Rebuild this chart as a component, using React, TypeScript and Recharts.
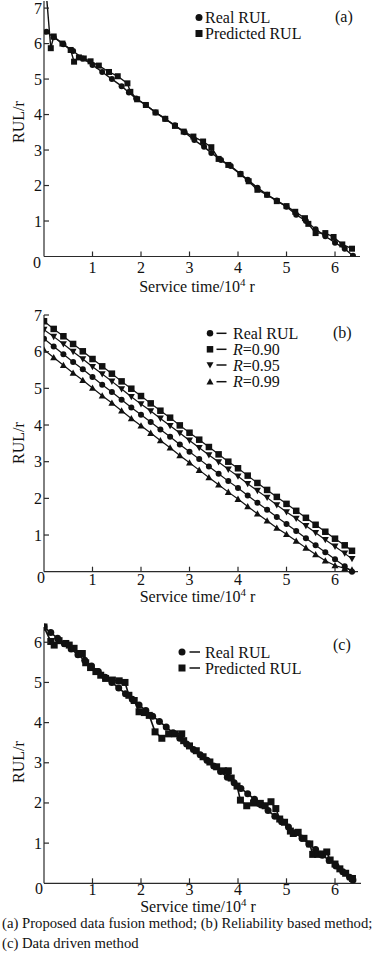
import React from 'react';
import { LineChart, Line, XAxis, YAxis, Legend } from 'recharts';

const FONT = '"Liberation Serif", "Times New Roman", Times, serif';
const INK = '#111';
const AXIS = '#2a2a2a';

// ---------- shared ticks ----------
const xTicks = [1, 2, 3, 4, 5, 6];
const yTicksAB = [0, 1, 2, 3, 4, 5, 6, 7];
const yTicksC = [0, 1, 2, 3, 4, 5, 6];

// ---------- panel (a): proposed data fusion method ----------
const aRealX = [0.05, 0.2, 0.4, 0.6, 0.8, 1.0, 1.2, 1.4, 1.6, 1.75, 1.9, 2.1, 2.3, 2.5, 2.7, 2.9, 3.1, 3.3, 3.45, 3.65, 3.85, 4.05, 4.2, 4.4, 4.6, 4.8, 5.0, 5.2, 5.4, 5.6, 5.8, 6.0, 6.2, 6.37];
const aRealY = [6.33, 6.18, 5.98, 5.79, 5.58, 5.40, 5.20, 5.00, 4.80, 4.62, 4.45, 4.27, 4.06, 3.88, 3.70, 3.50, 3.28, 3.09, 2.92, 2.72, 2.55, 2.33, 2.16, 1.94, 1.74, 1.58, 1.40, 1.18, 1.00, 0.77, 0.57, 0.39, 0.22, 0.02];
const aPredX = [0.06, 0.14, 0.2, 0.38, 0.55, 0.62, 0.72, 0.82, 0.96, 1.13, 1.34, 1.52, 1.72, 1.78, 1.92, 2.1, 2.3, 2.5, 2.7, 2.88, 3.08, 3.28, 3.45, 3.6, 3.8, 4.05, 4.22, 4.4, 4.6, 4.8, 5.0, 5.18, 5.38, 5.45, 5.6, 5.8, 5.97, 6.15, 6.35];
const aPredY = [7.2, 5.87, 6.2, 6.0, 5.82, 5.49, 5.61, 5.58, 5.5, 5.38, 5.2, 5.08, 4.88, 4.64, 4.43, 4.27, 4.06, 3.88, 3.68, 3.52, 3.38, 3.24, 3.08, 2.75, 2.58, 2.32, 2.12, 1.88, 1.74, 1.56, 1.42, 1.26, 1.08, 0.92, 0.66, 0.66, 0.55, 0.34, 0.22];

// ---------- panel (b): reliability based method ----------
const bX = [0.0, 0.2, 0.4, 0.6, 0.8, 1.0, 1.2, 1.4, 1.6, 1.8, 2.0, 2.2, 2.4, 2.6, 2.8, 3.0, 3.2, 3.4, 3.6, 3.8, 4.0, 4.2, 4.4, 4.6, 4.8, 5.0, 5.2, 5.4, 5.6, 5.8, 6.0, 6.2, 6.35];
const bReal = [6.35, 6.14, 5.93, 5.72, 5.52, 5.31, 5.10, 4.90, 4.69, 4.48, 4.28, 4.08, 3.88, 3.68, 3.47, 3.27, 3.07, 2.87, 2.67, 2.47, 2.28, 2.08, 1.88, 1.69, 1.49, 1.30, 1.11, 0.91, 0.72, 0.53, 0.34, 0.15, 0.00];
const bR90 = [6.83, 6.62, 6.42, 6.21, 6.01, 5.80, 5.60, 5.40, 5.19, 4.99, 4.79, 4.59, 4.39, 4.20, 3.99, 3.79, 3.60, 3.40, 3.20, 3.00, 2.82, 2.62, 2.42, 2.23, 2.04, 1.85, 1.66, 1.47, 1.28, 1.09, 0.90, 0.72, 0.57];
const bR95 = [6.60, 6.41, 6.21, 6.00, 5.80, 5.59, 5.39, 5.19, 4.98, 4.77, 4.57, 4.38, 4.18, 3.98, 3.78, 3.58, 3.38, 3.18, 2.99, 2.79, 2.60, 2.40, 2.21, 2.02, 1.82, 1.63, 1.45, 1.25, 1.06, 0.87, 0.69, 0.50, 0.35];
const bR99 = [6.05, 5.84, 5.63, 5.42, 5.22, 5.01, 4.80, 4.60, 4.39, 4.18, 3.98, 3.78, 3.58, 3.38, 3.17, 2.97, 2.77, 2.57, 2.37, 2.17, 1.98, 1.78, 1.58, 1.39, 1.19, 1.02, 0.84, 0.65, 0.47, 0.30, 0.17, 0.09, 0.05];

// ---------- panel (c): data driven method ----------
const cRealX = [0.0, 0.14, 0.28, 0.42, 0.56, 0.70, 0.84, 0.98, 1.12, 1.26, 1.40, 1.54, 1.68, 1.82, 1.96, 2.10, 2.24, 2.38, 2.52, 2.66, 2.80, 2.94, 3.08, 3.22, 3.36, 3.50, 3.64, 3.78, 3.92, 4.06, 4.20, 4.34, 4.48, 4.62, 4.76, 4.90, 5.04, 5.18, 5.32, 5.46, 5.60, 5.74, 5.88, 6.02, 6.16, 6.30, 6.37];
const cRealY = [6.38, 6.24, 6.10, 5.96, 5.83, 5.69, 5.55, 5.41, 5.27, 5.13, 5.00, 4.86, 4.72, 4.58, 4.44, 4.30, 4.16, 4.03, 3.89, 3.75, 3.61, 3.47, 3.33, 3.20, 3.06, 2.92, 2.78, 2.64, 2.50, 2.36, 2.23, 2.09, 1.95, 1.81, 1.67, 1.53, 1.40, 1.26, 1.12, 0.98, 0.84, 0.70, 0.57, 0.43, 0.29, 0.15, 0.08];
const cPredX = [0.0, 0.14, 0.21, 0.31, 0.45, 0.52, 0.62, 0.72, 0.79, 0.86, 0.96, 1.07, 1.17, 1.27, 1.41, 1.55, 1.67, 1.75, 1.86, 1.96, 2.07, 2.17, 2.29, 2.43, 2.57, 2.7, 2.84, 2.88, 3.0, 3.14, 3.28, 3.42, 3.56, 3.7, 3.8, 3.86, 3.98, 4.05, 4.18, 4.32, 4.46, 4.56, 4.68, 4.78, 4.86, 4.96, 5.08, 5.14, 5.24, 5.36, 5.48, 5.54, 5.64, 5.74, 5.83, 5.9, 6.0, 6.1, 6.22, 6.36];
const cPredY = [6.38, 6.02, 5.93, 6.04, 5.97, 5.93, 5.85, 5.72, 5.72, 5.49, 5.37, 5.27, 5.18, 5.1, 5.06, 5.04, 5.0, 4.68, 4.55, 4.27, 4.25, 4.18, 3.77, 3.61, 3.72, 3.72, 3.72, 3.55, 3.42, 3.3, 3.15, 3.02, 2.9, 2.8, 2.8, 2.62, 2.42, 2.07, 1.93, 2.0, 1.99, 1.93, 2.03, 1.86, 1.6, 1.52, 1.3, 1.24, 1.27, 1.12, 0.98, 0.72, 0.72, 0.73, 0.78, 0.58, 0.48, 0.36, 0.25, 0.12];

// ---------- helpers ----------
type Pt = { x: number; y: number };
const zip = (xs: number[], ys: number[]): Pt[] => xs.map((x, i) => ({ x, y: ys[i] }));

type Kind = 'circle' | 'square' | 'down' | 'up';

function markerEl(kind: Kind, cx: number, cy: number, s: number, key?: string) {
  const h = s / 2;
  if (kind === 'circle') return <circle key={key} cx={cx} cy={cy} r={h} fill={INK} />;
  if (kind === 'square') return <rect key={key} x={cx - h} y={cy - h} width={s} height={s} fill={INK} />;
  if (kind === 'down')
    return <polygon key={key} points={`${cx - h},${cy - h * 0.8} ${cx + h},${cy - h * 0.8} ${cx},${cy + h}`} fill={INK} />;
  return <polygon key={key} points={`${cx - h},${cy + h * 0.8} ${cx + h},${cy + h * 0.8} ${cx},${cy - h}`} fill={INK} />;
}

const dotRenderer = (kind: Kind, s: number, skipAbove: number) => (props: any) => {
  const { cx, cy, index, payload } = props;
  const key = `d-${index}`;
  if (cx == null || cy == null || (payload && payload.y >= skipAbove)) return <g key={key} />;
  return markerEl(kind, cx, cy, s, key);
};

interface SeriesDef { name: string; data: Pt[]; kind: Kind; size: number; width: number; skipAbove?: number }
interface LegendRow { label: React.ReactNode; kind: Kind; size: number; cy: number }

interface PanelProps {
  top: number; height: number; marginTop: number; plotBottom: number; plotRight: number;
  xMax: number; yMax: number; yTicks: number[]; overflow: boolean;
  series: SeriesDef[];
  rows: LegendRow[]; markerX: number; dash: [number, number] | null; textX: number;
  tag: string; tagX: number; tagY: number;
  xLabelDy: number; titleX: number; titleY: number; yTitleY: number;
  zeroDx: number; zeroDy: number;
}

function Panel(p: PanelProps) {
  const xAxisHeight = p.height - p.plotBottom;
  const xTick = (props: any) => {
    const { x, y, payload } = props;
    return (
      <g>
        <line x1={x} y1={y} x2={x} y2={y - 5} stroke={AXIS} strokeWidth={1.2} />
        <text x={x} y={y + p.xLabelDy} textAnchor="middle" fontFamily={FONT} fontSize={16} fill={INK}>
          {payload.value}
        </text>
      </g>
    );
  };
  const yTick = (props: any) => {
    const { x, y, payload } = props;
    if (payload.value === 0) {
      return (
        <text x={x + p.zeroDx} y={y + p.zeroDy} textAnchor="end" fontFamily={FONT} fontSize={16} fill={INK}>
          0
        </text>
      );
    }
    return (
      <g>
        <line x1={x} y1={y} x2={x + 5} y2={y} stroke={AXIS} strokeWidth={1.2} />
        <text x={x - 2} y={y + 5.5} textAnchor="end" fontFamily={FONT} fontSize={16} fill={INK}>
          {payload.value}
        </text>
      </g>
    );
  };
  const xTitle = () => (
    <text x={p.titleX} y={p.titleY} textAnchor="middle" fontFamily={FONT} fontSize={16} fill={INK}>
      Service time/10<tspan dy={-6} fontSize={11}>4</tspan><tspan dy={6}> r</tspan>
    </text>
  );
  const yTitle = () => (
    <text
      x={24}
      y={p.yTitleY}
      transform={`rotate(-90, 24, ${p.yTitleY})`}
      textAnchor="middle"
      fontFamily={FONT}
      fontSize={16}
      fill={INK}
    >
      RUL/r
    </text>
  );
  const legendContent = () => (
    <svg width={376} height={p.height} style={{ overflow: 'visible' }}>
      {p.rows.map((r, i) => (
        <g key={i}>
          {markerEl(r.kind, p.markerX, r.cy, r.size)}
          {p.dash && <line x1={p.dash[0]} y1={r.cy} x2={p.dash[1]} y2={r.cy} stroke={INK} strokeWidth={1.5} />}
          <text x={p.textX} y={r.cy + 5.5} fontFamily={FONT} fontSize={16} fill={INK}>
            {r.label}
          </text>
        </g>
      ))}
      <text x={p.tagX} y={p.tagY} fontFamily={FONT} fontSize={16} fill={INK}>
        {p.tag}
      </text>
    </svg>
  );
  return (
    <div style={{ position: 'absolute', left: 0, top: p.top, width: 376, height: p.height }}>
      <LineChart
        width={376}
        height={p.height}
        margin={{ top: p.marginTop, right: 376 - p.plotRight, left: 0, bottom: 0 }}
      >
        <XAxis
          xAxisId="b"
          type="number"
          dataKey="x"
          domain={[0, p.xMax]}
          ticks={xTicks}
          interval={0}
          height={xAxisHeight}
          tickSize={0}
          tickMargin={0}
          tickLine={false}
          axisLine={{ stroke: AXIS, strokeWidth: 1.2 }}
          tick={xTick}
          label={xTitle}
          allowDataOverflow
        />
        <XAxis
          xAxisId="t"
          orientation="top"
          type="number"
          domain={[0, p.xMax]}
          height={0}
          tick={false}
          tickLine={false}
          axisLine={{ stroke: AXIS, strokeWidth: 1.2 }}
          allowDataOverflow
        />
        <YAxis
          yAxisId="l"
          type="number"
          domain={[0, p.yMax]}
          ticks={p.yTicks}
          interval={0}
          width={44}
          tickSize={0}
          tickMargin={0}
          tickLine={false}
          axisLine={{ stroke: AXIS, strokeWidth: 1.2 }}
          tick={yTick}
          label={yTitle}
          allowDataOverflow={p.overflow}
        />
        <YAxis
          yAxisId="r"
          orientation="right"
          type="number"
          domain={[0, p.yMax]}
          width={0}
          tick={false}
          tickLine={false}
          axisLine={{ stroke: AXIS, strokeWidth: 1.2 }}
          allowDataOverflow
        />
        {p.series.map((s) => (
          <Line
            key={s.name}
            name={s.name}
            xAxisId="b"
            yAxisId="l"
            type="linear"
            data={s.data}
            dataKey="y"
            stroke={INK}
            strokeWidth={s.width}
            dot={dotRenderer(s.kind, s.size, s.skipAbove ?? Infinity)}
            activeDot={false}
            isAnimationActive={false}
          />
        ))}
        <Legend
          layout="vertical"
          verticalAlign="middle"
          align="center"
          wrapperStyle={{ position: 'absolute', left: 0, top: 0, width: 376, height: p.height, pointerEvents: 'none' }}
          content={legendContent}
        />
      </LineChart>
    </div>
  );
}

export default function App() {
  return (
    <div style={{ position: 'absolute', left: 0, top: 0, width: 376, height: 960, background: '#fff' }}>
      <Panel
        top={0}
        height={300}
        marginTop={1}
        plotBottom={256.5}
        plotRight={360}
        xMax={6.515}
        yMax={7.2}
        yTicks={yTicksAB}
        overflow
        series={[
          { name: 'Real RUL', data: zip(aRealX, aRealY), kind: 'circle', size: 6, width: 1.4 },
          { name: 'Predicted RUL', data: zip(aPredX, aPredY), kind: 'square', size: 6, width: 1.4, skipAbove: 7 },
        ]}
        rows={[
          { label: 'Real RUL', kind: 'circle', size: 7, cy: 17.5 },
          { label: 'Predicted RUL', kind: 'square', size: 7, cy: 33.5 },
        ]}
        markerX={199}
        dash={null}
        textX={205}
        tag="(a)"
        tagX={335}
        tagY={22}
        xLabelDy={16}
        titleX={197}
        titleY={292}
        yTitleY={122}
        zeroDx={-3}
        zeroDy={11}
      />
      <Panel
        top={300}
        height={310}
        marginTop={15}
        plotBottom={271.7}
        plotRight={358}
        xMax={6.474}
        yMax={7}
        yTicks={yTicksAB}
        overflow={false}
        series={[
          { name: 'Real RUL', data: zip(bX, bReal), kind: 'circle', size: 6, width: 1.2 },
          { name: 'R=0.90', data: zip(bX, bR90), kind: 'square', size: 6.5, width: 1.2 },
          { name: 'R=0.95', data: zip(bX, bR95), kind: 'down', size: 7, width: 1.2 },
          { name: 'R=0.99', data: zip(bX, bR99), kind: 'up', size: 7, width: 1.2 },
        ]}
        rows={[
          { label: 'Real RUL', kind: 'circle', size: 6.5, cy: 33.3 },
          { label: <><tspan fontStyle="italic">R</tspan>=0.90</>, kind: 'square', size: 6.5, cy: 49.3 },
          { label: <><tspan fontStyle="italic">R</tspan>=0.95</>, kind: 'down', size: 7, cy: 65 },
          { label: <><tspan fontStyle="italic">R</tspan>=0.99</>, kind: 'up', size: 7, cy: 81.7 },
        ]}
        markerX={210}
        dash={[216.5, 226.5]}
        textX={233}
        tag="(b)"
        tagX={333}
        tagY={38}
        xLabelDy={13}
        titleX={197.5}
        titleY={302}
        yTitleY={143}
        zeroDx={1}
        zeroDy={10.8}
      />
      <Panel
        top={610}
        height={312}
        marginTop={17}
        plotBottom={273.3}
        plotRight={361}
        xMax={6.536}
        yMax={6.38}
        yTicks={yTicksC}
        overflow={false}
        series={[
          { name: 'Real RUL', data: zip(cRealX, cRealY), kind: 'circle', size: 7, width: 1.6 },
          { name: 'Predicted RUL', data: zip(cPredX, cPredY), kind: 'square', size: 7, width: 1.6 },
        ]}
        rows={[
          { label: 'Real RUL', kind: 'circle', size: 7, cy: 42 },
          { label: 'Predicted RUL', kind: 'square', size: 7, cy: 58 },
        ]}
        markerX={182}
        dash={[189.5, 200]}
        textX={205}
        tag="(c)"
        tagX={333}
        tagY={40}
        xLabelDy={12}
        titleX={198}
        titleY={301.5}
        yTitleY={152}
        zeroDx={-1}
        zeroDy={10.2}
      />
      <div
        style={{
          position: 'absolute',
          left: 2,
          top: 912.6,
          width: 376,
          fontFamily: FONT,
          fontSize: 14.7,
          lineHeight: '20px',
          color: INK,
          whiteSpace: 'nowrap',
        }}
      >
        <div>(a) Proposed data fusion method; (b) Reliability based method;</div>
        <div>(c) Data driven method</div>
      </div>
    </div>
  );
}
